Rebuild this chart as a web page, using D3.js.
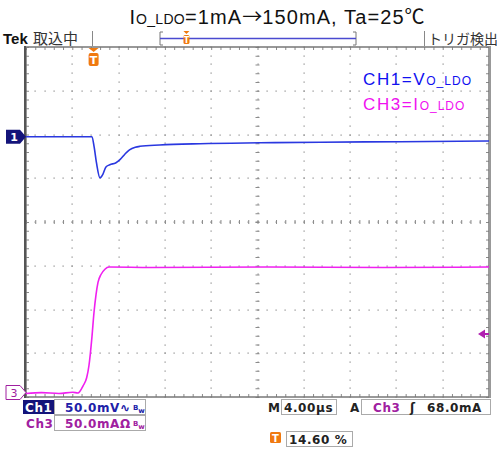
<!DOCTYPE html>
<html>
<head>
<meta charset="utf-8">
<script src="https://cdn.jsdelivr.net/npm/d3@7"></script>
<style>
  body { margin: 0; background: #fff; }
  svg { display: block; }
</style>
</head>
<body>
<svg id="scope"></svg>
<script>
// time in µs relative to trigger, CH1 in mV deviation, CH3 in mA
const ch1Time = [-5.84, -0.14, 0.05, 0.25, 0.55, 0.8, 1.05, 1.4, 1.9, 2.3, 2.7, 3.1, 3.6, 4.0, 5.7, 9.2, 14.4, 19.6, 26.5, 34.16];
const ch1Volt = [0, 0, -12, -30, -47, -43, -35, -32, -30, -26, -20, -15, -12, -11, -9.5, -8, -7, -6.3, -5.7, -5];
const ch3Time = [-5.84, -4.5, -3.0, -1.8, -1.35, -0.9, -0.6, -0.4, -0.14, 0.03, 0.21, 0.38, 0.64, 0.98, 1.33, 5, 15, 25, 34.16];
const ch3Curr = [0, 1, 0, 1.5, 0.5, 9, 18, 32, 65, 92, 113, 127, 136, 142, 144.5, 144, 144.5, 144, 144.5];

const timeDiv = 4;          // µs / div
const ch1Scale = 50;        // mV / div
const ch3Scale = 50;        // mA / div
const ch1Pos = 1.95;        // div
const ch3Pos = -3.92;       // div
const trigPct = 14.6;
const trigLevel = 68;       // mA

const W = 497, H = 450;
const plot = { left: 26, right: 489, top: 47, bottom: 397 };

const svg = d3.select("#scope").attr("width", W).attr("height", H);

const tStart = -trigPct / 100 * 10 * timeDiv;
const x = d3.scaleLinear().domain([tStart, tStart + 10 * timeDiv]).range([plot.left, plot.right]);
const y = d3.scaleLinear().domain([-4, 4]).range([plot.bottom, plot.top]);

// title
const jp = "'Noto Sans CJK JP', sans-serif";
const title = svg.append("text")
  .attr("x", 277).attr("y", 24)
  .attr("text-anchor", "middle")
  .style("font-family", "'Liberation Sans', Arial, sans-serif")
  .style("font-size", "20px")
  .style("letter-spacing", "1.1px")
  .attr("fill", "#111");
title.append("tspan").text("I");
title.append("tspan").style("font-size", "14px").style("letter-spacing", "0.3px").text("O_LDO");
title.append("tspan").text("=1mA");
title.append("tspan").style("font-family", jp).style("letter-spacing", "0px").text("→");
title.append("tspan").text("150mA, Ta=25");
title.append("tspan").style("font-family", jp).style("letter-spacing", "0px").text("℃");

// top status bar
svg.append("text").attr("x", 3).attr("y", 44)
  .style("font-family", "'Liberation Sans', Arial, sans-serif")
  .style("font-weight", "bold").style("font-size", "15px").attr("fill", "#111").text("Tek");
svg.append("text").attr("x", 33).attr("y", 44)
  .style("font-family", jp).style("font-size", "15px").attr("fill", "#333").text("取込中");
svg.append("line").attr("x1", 92.5).attr("x2", 92.5).attr("y1", 31).attr("y2", 46).attr("stroke", "#888");
svg.append("text").attr("x", 428).attr("y", 44)
  .style("font-family", jp).style("font-size", "14px").attr("fill", "#333").text("トリガ検出");
svg.append("line").attr("x1", 424.5).attr("x2", 424.5).attr("y1", 31).attr("y2", 46).attr("stroke", "#888");

// record overview bracket
const ovL = 160, ovR = 356;
svg.append("path").attr("d", `M${ovL + 3},32H${ovL}V45H${ovL + 3}`).attr("fill", "none").attr("stroke", "#777");
svg.append("path").attr("d", `M${ovR - 3},32H${ovR}V45H${ovR - 3}`).attr("fill", "none").attr("stroke", "#777");
svg.append("line").attr("x1", ovL).attr("x2", ovR).attr("y1", 38.5).attr("y2", 38.5).attr("stroke", "#4a4ad0").attr("stroke-width", 1.5);
const ovT = ovL + (ovR - ovL) * 0.135;
svg.append("path").attr("d", `M${ovT - 3},31H${ovT + 3}L${ovT},34Z`).attr("fill", "#f07a10");
svg.append("rect").attr("x", ovT - 3).attr("y", 35).attr("width", 6).attr("height", 9).attr("rx", 1.5).attr("fill", "#f07a10");
svg.append("text").attr("x", ovT).attr("y", 43).attr("text-anchor", "middle")
  .style("font-family", "'DejaVu Sans', sans-serif").style("font-size", "8px").style("font-weight", "bold")
  .attr("fill", "#fff").text("T");

// plot background
svg.append("rect").attr("x", plot.left).attr("y", plot.top)
  .attr("width", plot.right - plot.left).attr("height", plot.bottom - plot.top)
  .attr("fill", "#fff");

// grid dots
const minorX = d3.range(0, 51).map(k => tStart + k * timeDiv / 5);
const minorY = d3.range(0, 41).map(k => -4 + k * 0.2);
const majorX = d3.range(1, 10).map(k => tStart + k * timeDiv);
const majorY = d3.range(-3, 4);
const dotPts = [];
majorX.forEach(t => minorY.forEach(v => dotPts.push([x(t), y(v)])));
majorY.forEach(v => minorX.forEach(t => dotPts.push([x(t), y(v)])));
svg.append("g").selectAll("rect").data(dotPts).join("rect")
  .attr("x", d => Math.round(d[0]) - 0.5).attr("y", d => Math.round(d[1]) - 0.5)
  .attr("width", 1.2).attr("height", 1.2).attr("fill", "#8a8a8a");

// centre cross and frame ticks via axes
const tickStyle = g => {
  g.select(".domain").remove();
  g.selectAll("text").remove();
  g.selectAll("line").attr("stroke", "#8a8a8a");
};
const tMid = tStart + 5 * timeDiv;
svg.append("g").attr("transform", `translate(0,${y(0) - 2})`)
  .call(d3.axisBottom(x).tickValues(minorX).tickSize(4)).call(tickStyle);
svg.append("g").attr("transform", `translate(${x(tMid) - 2},0)`)
  .call(d3.axisRight(y).tickValues(minorY).tickSize(4)).call(tickStyle);
svg.append("g").attr("transform", `translate(0,${plot.top})`)
  .call(d3.axisBottom(x).tickValues(minorX).tickSize(3)).call(tickStyle);
svg.append("g").attr("transform", `translate(0,${plot.bottom})`)
  .call(d3.axisTop(x).tickValues(minorX).tickSize(3)).call(tickStyle);
svg.append("g").attr("transform", `translate(${plot.left},0)`)
  .call(d3.axisRight(y).tickValues(minorY).tickSize(3)).call(tickStyle);
svg.append("g").attr("transform", `translate(${plot.right},0)`)
  .call(d3.axisLeft(y).tickValues(minorY).tickSize(3)).call(tickStyle);
svg.append("line").attr("x1", x(tMid) - 2).attr("x2", x(tMid) + 2).attr("y1", y(0)).attr("y2", y(0)).attr("stroke", "#8a8a8a");

// frame
svg.append("rect").attr("x", plot.left).attr("y", plot.top)
  .attr("width", plot.right - plot.left).attr("height", plot.bottom - plot.top)
  .attr("fill", "none").attr("stroke", "#777").attr("stroke-width", 1.5);
svg.append("line").attr("x1", plot.left - 1).attr("x2", plot.left - 1).attr("y1", plot.top - 1).attr("y2", plot.bottom + 1)
  .attr("stroke", "#555").attr("stroke-width", 2);
svg.append("line").attr("x1", plot.right + 1).attr("x2", plot.right + 1).attr("y1", plot.top - 1).attr("y2", plot.bottom + 1)
  .attr("stroke", "#999").attr("stroke-width", 2);

// waveforms
const ch1Line = d3.line().x(d => x(d[0])).y(d => y(ch1Pos + d[1] / ch1Scale)).curve(d3.curveMonotoneX);
const ch3Line = d3.line().x(d => x(d[0])).y(d => y(ch3Pos + d[1] / ch3Scale)).curve(d3.curveMonotoneX);
svg.append("path").datum(d3.zip(ch3Time, ch3Curr)).attr("d", ch3Line)
  .attr("fill", "none").attr("stroke", "#f020f0").attr("stroke-width", 1.6);
svg.append("path").datum(d3.zip(ch1Time, ch1Volt)).attr("d", ch1Line)
  .attr("fill", "none").attr("stroke", "#2a38e0").attr("stroke-width", 1.6);

// trigger position marker
const tx = x(0);
svg.append("path").attr("d", `M${tx - 5},${plot.top + 1}H${tx + 5}L${tx},${plot.top + 5}Z`).attr("fill", "#f07a10");
svg.append("rect").attr("x", tx - 5).attr("y", plot.top + 6).attr("width", 10).attr("height", 13).attr("rx", 2).attr("fill", "#f07a10");
svg.append("text").attr("x", tx).attr("y", plot.top + 17).attr("text-anchor", "middle")
  .style("font-family", "'DejaVu Sans', sans-serif").style("font-size", "11px").style("font-weight", "bold")
  .attr("fill", "#fff").text("T");

// trigger level arrow
const ty = y(ch3Pos + trigLevel / ch3Scale);
svg.append("path").attr("d", `M${plot.right - 11},${ty}L${plot.right - 4},${ty - 4.5}V${ty + 4.5}Z`).attr("fill", "#b020b0");
svg.append("line").attr("x1", plot.right - 5).attr("x2", plot.right).attr("y1", ty).attr("y2", ty).attr("stroke", "#b020b0").attr("stroke-width", 2);

// channel markers
const markerPath = cy => `M6,${cy - 7}H20L26,${cy}L20,${cy + 7}H6Z`;
const c1y = y(ch1Pos), c3y = y(ch3Pos) - 1;
svg.append("path").attr("d", markerPath(c1y)).attr("fill", "#14147a");
svg.append("text").attr("x", 14).attr("y", c1y + 4.5).attr("text-anchor", "middle")
  .style("font-family", "'DejaVu Sans', sans-serif").style("font-size", "11px").style("font-weight", "bold")
  .attr("fill", "#fff").text("1");
svg.append("path").attr("d", markerPath(c3y)).attr("fill", "#fff").attr("stroke", "#a020a0").attr("stroke-width", 1);
svg.append("text").attr("x", 14).attr("y", c3y + 4.5).attr("text-anchor", "middle")
  .style("font-family", "'DejaVu Sans', sans-serif").style("font-size", "11px")
  .attr("fill", "#a020a0").text("3");

// legend
const legFont = "'Liberation Sans', Arial, sans-serif";
const leg1 = svg.append("text").attr("x", 363).attr("y", 85)
  .style("font-family", legFont).style("font-size", "17px").style("letter-spacing", "1.6px").attr("fill", "#1010f0");
leg1.append("tspan").text("CH1=V");
leg1.append("tspan").style("font-size", "12px").style("letter-spacing", "1px").text("O_LDO");
const leg2 = svg.append("text").attr("x", 363).attr("y", 110)
  .style("font-family", legFont).style("font-size", "17px").style("letter-spacing", "1.6px").attr("fill", "#f010f0");
leg2.append("tspan").text("CH3=I");
leg2.append("tspan").style("font-size", "12px").style("letter-spacing", "1px").text("O_LDO");

// bottom readouts
const roFont = "'DejaVu Sans', sans-serif";
const box = (x0, y0, w, h) => svg.append("rect").attr("x", x0 + 0.5).attr("y", y0 + 0.5).attr("width", w).attr("height", h)
  .attr("fill", "#fff").attr("stroke", "#aaa");
const txt = (x0, y0, s, color, size) => svg.append("text").attr("x", x0).attr("y", y0)
  .style("font-family", roFont).style("font-weight", "bold").style("font-size", (size || 12) + "px")
  .style("letter-spacing", "0.6px").attr("fill", color).text(s);
const bw = (x0, y0, color) => {
  const t = svg.append("text").attr("x", x0).attr("y", y0)
    .style("font-family", roFont).style("font-size", "7px").style("font-weight", "bold").attr("fill", color);
  t.append("tspan").attr("dy", -2).text("B");
  t.append("tspan").attr("dy", 3).text("w");
};

svg.append("rect").attr("x", 23).attr("y", 400).attr("width", 31).attr("height", 14).attr("fill", "#14147a");
txt(25, 412, "Ch1", "#fff");
box(54, 399, 91, 15);
txt(65, 412, "50.0mV∿", "#2020a8");
bw(133, 412, "#2020a8");
txt(26, 428, "Ch3", "#a020a0");
box(54, 415, 91, 15);
txt(65, 428, "50.0mAΩ", "#a020a0");
bw(133, 428, "#a020a0");

txt(268, 412, "M", "#222");
box(281, 399, 55, 15);
txt(284, 412, "4.00µs", "#222");
txt(350, 412, "A", "#222");
box(361, 399, 129, 15);
txt(373, 412, "Ch3", "#a020a0");
txt(410, 412, "ʃ", "#222");
txt(427, 412, "68.0mA", "#222");

svg.append("rect").attr("x", 270).attr("y", 432).attr("width", 11).attr("height", 11).attr("rx", 1.5).attr("fill", "#f07a10");
svg.append("text").attr("x", 275.5).attr("y", 441.5).attr("text-anchor", "middle")
  .style("font-family", roFont).style("font-size", "10px").style("font-weight", "bold").attr("fill", "#fff").text("T");
box(286, 431, 66, 15);
txt(289, 444, trigPct.toFixed(2) + " %", "#222");
</script>
</body>
</html>
